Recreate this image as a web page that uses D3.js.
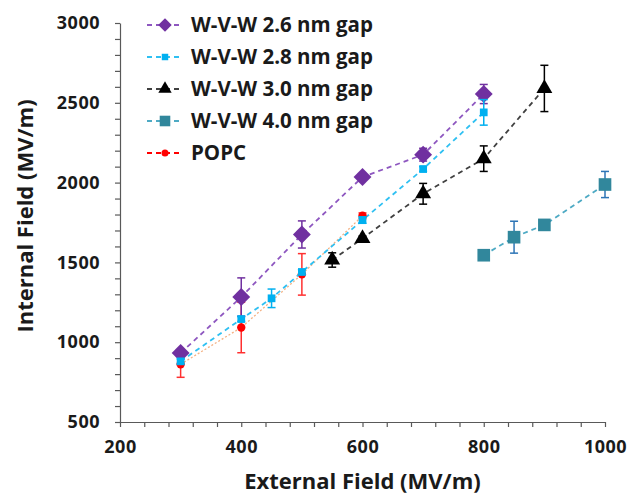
<!DOCTYPE html>
<html>
<head>
<meta charset="utf-8">
<script src="https://cdn.jsdelivr.net/npm/d3@7"></script>
<style>
  body { margin: 0; background: #fff; }
  text { font-family: "Open Sans", sans-serif; font-weight: bold; fill: #1a1a1a; }
</style>
</head>
<body>
<script>
// series values
var gap26X = [300, 400, 500, 600, 700, 800];
var gap26Y = [932, 1283, 1675, 2035, 2175, 2555];
var gap26E = [20, 120, 85, 15, 40, 60];

var gap28X = [300, 400, 450, 500, 600, 700, 800];
var gap28Y = [880, 1145, 1275, 1440, 1765, 2085, 2440];
var gap28E = [15, 15, 58, 15, 20, 15, 80];

var gap30X = [550, 600, 700, 800, 900];
var gap30Y = [1515, 1650, 1930, 2150, 2590];
var gap30E = [45, 15, 65, 80, 145];

var gap40X = [800, 850, 900, 1000];
var gap40Y = [1545, 1658, 1735, 1988];
var gap40E = [10, 100, 10, 82];

var popcX = [300, 400, 500, 600];
var popcY = [862, 1092, 1425, 1792];
var popcE = [82, 158, 130, 18];

var legendNames = ["W-V-W 2.6 nm gap", "W-V-W 2.8 nm gap", "W-V-W 3.0 nm gap", "W-V-W 4.0 nm gap", "POPC"];
var xTicks = [200, 400, 600, 800, 1000];
var yTicks = [500, 1000, 1500, 2000, 2500, 3000];

var series = [
  {x: gap26X, y: gap26Y, e: gap26E, color: "#7030A0", line: "#8e57c0", err: "#7030A0", shape: d3.symbolDiamond2, size: 160, dash: "5,4", lw: 1.8},
  {x: gap28X, y: gap28Y, e: gap28E, color: "#00B0F0", line: "#2fc0f2", err: "#00B0F0", shape: d3.symbolSquare, size: 60, dash: "5,4", lw: 1.8},
  {x: gap30X, y: gap30Y, e: gap30E, color: "#000000", line: "#404040", err: "#000000", shape: d3.symbolTriangle, size: 110, dash: "5,4", lw: 1.8},
  {x: gap40X, y: gap40Y, e: gap40E, color: "#31879C", line: "#4eaac4", err: "#2e75b6", shape: d3.symbolSquare, size: 160, dash: "5,4", lw: 1.8},
  {x: popcX, y: popcY, e: popcE, color: "#ff0000", line: "#f4b183", err: "#ff3030", shape: d3.symbolCircle, size: 55, dash: "2,2", lw: 1.3}
];

var width = 633, height = 495;
var margin = {top: 23, left: 120, right: 28, bottom: 73};
var plotW = width - margin.left - margin.right;
var plotH = height - margin.top - margin.bottom;

var svg = d3.select("body").append("svg")
  .attr("width", width)
  .attr("height", height);

var x = d3.scaleLinear().domain([200, 1000]).range([0, plotW]);
var y = d3.scaleLinear().domain([500, 3000]).range([plotH, 0]);

var g = svg.append("g")
  .attr("transform", "translate(" + margin.left + "," + margin.top + ")");

// axes: major labels plus minor ticks
var xAxis = g.append("g")
  .attr("transform", "translate(0," + plotH + ")")
  .call(d3.axisBottom(x).tickValues(d3.range(200, 1001, 40)).tickSize(5).tickSizeOuter(0)
    .tickFormat(function(d){ return xTicks.indexOf(d) >= 0 ? d : ""; }));
var yAxis = g.append("g")
  .call(d3.axisLeft(y).tickValues(d3.range(500, 3001, 100)).tickSize(5).tickSizeOuter(0)
    .tickFormat(function(d){ return yTicks.indexOf(d) >= 0 ? d : ""; }));

[xAxis, yAxis].forEach(function(ax){
  ax.select(".domain").attr("stroke", "#595959").attr("stroke-width", 1.2);
  ax.selectAll(".tick line").attr("stroke", "#595959").attr("stroke-width", 1.2);
  ax.selectAll(".tick text").style("font-size", "18px").style("font-family", "'Open Sans', sans-serif")
    .style("font-weight", "bold").attr("fill", "#1a1a1a").style("letter-spacing", "0.5px");
});
xAxis.selectAll(".tick text").attr("y", 31).attr("dy", 0);
yAxis.selectAll(".tick text").attr("x", -20);

// axis titles
svg.append("text")
  .attr("x", margin.left + x(600))
  .attr("y", 489)
  .attr("text-anchor", "middle")
  .style("font-size", "22px")
  .text("External Field (MV/m)");
svg.append("text")
  .attr("transform", "translate(33," + 216 + ") rotate(-90)")
  .attr("text-anchor", "middle")
  .style("font-size", "22px")
  .text("Internal Field (MV/m)");

// draw series: POPC line underneath, then the others
var order = [4, 0, 1, 2, 3];
var lineGen = d3.line().x(function(d){ return x(d[0]); }).y(function(d){ return y(d[1]); });

order.forEach(function(i){
  var s = series[i];
  var pts = s.x.map(function(v, k){ return [v, s.y[k], s.e[k]]; });
  g.append("path")
    .datum(pts)
    .attr("d", lineGen)
    .attr("fill", "none")
    .attr("stroke", s.line)
    .attr("stroke-width", s.lw)
    .attr("stroke-dasharray", s.dash);
});

order.forEach(function(i){
  var s = series[i];
  var pts = s.x.map(function(v, k){ return [v, s.y[k], s.e[k]]; });
  var eg = g.append("g");
  pts.forEach(function(p){
    var cx = x(p[0]), y1 = y(p[1] + p[2]), y2 = y(p[1] - p[2]);
    eg.append("line").attr("x1", cx).attr("x2", cx).attr("y1", y1).attr("y2", y2)
      .attr("stroke", s.err).attr("stroke-width", 1.5);
    [y1, y2].forEach(function(yy){
      eg.append("line").attr("x1", cx - 4).attr("x2", cx + 4).attr("y1", yy).attr("y2", yy)
        .attr("stroke", s.err).attr("stroke-width", 1.5);
    });
  });
  g.append("g").selectAll("path")
    .data(pts)
    .enter()
    .append("path")
    .attr("transform", function(d){ return "translate(" + x(d[0]) + "," + y(d[1]) + ")" + (s.shape === d3.symbolDiamond2 ? " rotate(45)" : ""); })
    .attr("d", d3.symbol().type(s.shape === d3.symbolDiamond2 ? d3.symbolSquare : s.shape).size(s.size))
    .attr("fill", s.color);
});

// legend
var legend = svg.append("g");
legendNames.forEach(function(name, i){
  var s = series[i];
  var ly = 25 + i * 32;
  var row = legend.append("g");
  row.append("line").attr("x1", 147).attr("x2", 183).attr("y1", ly).attr("y2", ly)
    .attr("stroke", i === 4 ? "#ff0000" : s.line).attr("stroke-width", 1.8).attr("stroke-dasharray", "5,4");
  row.append("path")
    .attr("transform", "translate(165," + ly + ")" + (i === 0 ? " rotate(45)" : ""))
    .attr("d", d3.symbol().type(i === 0 ? d3.symbolSquare : s.shape).size(i === 0 ? 90 : s.size * 0.7))
    .attr("fill", s.color);
  row.append("text")
    .attr("x", 191)
    .attr("y", ly + 7)
    .style("font-size", "20.5px")
    .text(name);
});
</script>
</body>
</html>
